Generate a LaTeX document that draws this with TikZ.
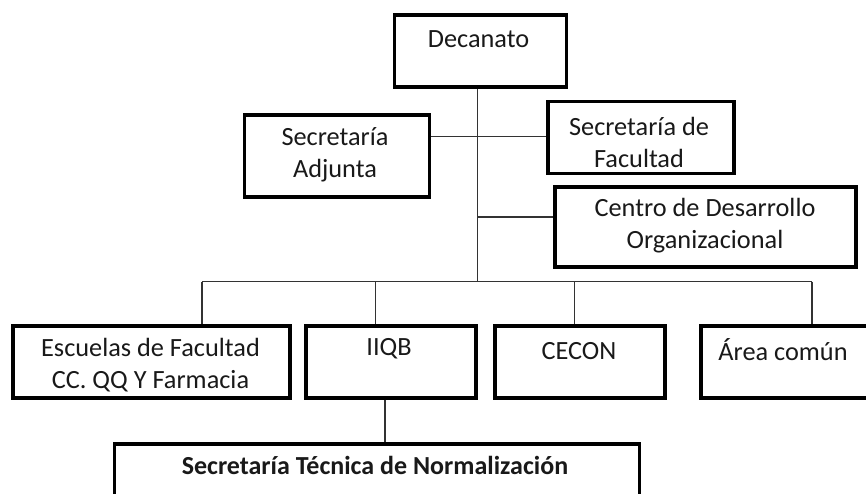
\documentclass[tikz,border=0pt]{standalone}
\usepackage{fontspec}
\setmainfont{Carlito}
\begin{document}
\begin{tikzpicture}[x=1pt,y=-1pt,
  box/.style={draw=black, line width=3.8pt, rectangle, inner sep=0pt},
  txt/.style={font=\fontsize{26.3}{32}\selectfont, align=center, inner sep=0pt, text=black!90},
  conn/.style={draw=black!80, line width=1.3pt}]
\clip (0,0) rectangle (866,493);
\fill[white] (0,0) rectangle (866,493);
% boxes
\node[box, minimum width=172pt, minimum height=72pt] (dec) at (480.5,51) {};
\node[box, minimum width=185pt, minimum height=82pt] (adj) at (337,155.8) {};
\node[box, minimum width=186pt, minimum height=72pt] (fac) at (641.3,137.5) {};
\node[box, minimum width=301pt, minimum height=80pt] (cdo) at (705.8,226.7) {};
\node[box, minimum width=277pt, minimum height=72pt] (esc) at (151.3,361.7) {};
\node[box, minimum width=170pt, minimum height=72pt] (iiqb) at (390.7,361.7) {};
\node[box, minimum width=170pt, minimum height=72pt] (cec) at (579.8,361.7) {};
\node[box, minimum width=172pt, minimum height=72pt] (area) at (787,361.7) {};
\node[box, minimum width=525pt, minimum height=80pt] (stn) at (377,484) {};
% texts
\node[txt] (dect) at (478.5,39) {Decanato};
\node[txt] (adjt) at (335,155) {Secretaría\\Adjunta};
\node[txt] (fact) at (639,142) {Secretaría de\\Facultad};
\node[txt] (cdot) at (705,226) {Centro de Desarrollo\\Organizacional};
\node[txt] (esct) at (150.5,365.5) {Escuelas de Facultad\\CC. QQ Y Farmacia};
\node[txt] (iiqbt) at (389,349) {IIQB};
\node[txt] (cect) at (579,350.7) {CECON};
\node[txt] (areat) at (783,350) {Área común};
\node[txt, font=\fontsize{26}{32}\selectfont\bfseries] (stnt) at (375,465) {Secretaría Técnica de Normalización};
% connectors
\coordinate (busL) at (202,281.7);
\coordinate (busR) at (812,281.7);
\coordinate (trk) at (477.3,0);
\coordinate (j1) at (477.3,136.7);
\coordinate (j2) at (477.3,217);
\draw[conn] (trk |- dec.south) -- (trk |- busL);
\draw[conn] (busL) -- (busR);
\draw[conn] (j1 -| adj.east) -- (j1 -| fac.west);
\draw[conn] (j2) -- (j2 -| cdo.west);
\coordinate (d1) at (202,281.7);
\coordinate (d2) at (375.7,281.7);
\coordinate (d3) at (574.7,281.7);
\coordinate (d4) at (812,281.7);
\draw[conn] (d1) -- (d1 |- esc.north);
\draw[conn] (d2) -- (d2 |- iiqb.north);
\draw[conn] (d3) -- (d3 |- cec.north);
\draw[conn] (d4) -- (d4 |- area.north);
\coordinate (d5) at (385,420);
\draw[conn] (d5 |- iiqb.south) -- (d5 |- stn.north);
\end{tikzpicture}
\end{document}
